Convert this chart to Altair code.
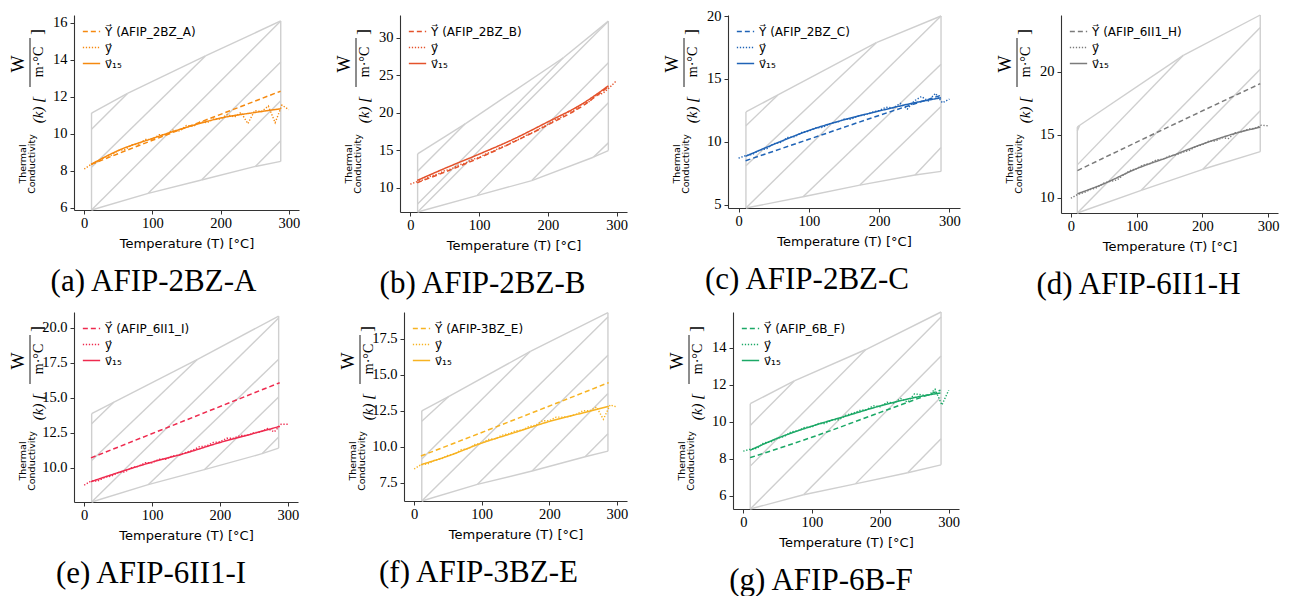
import altair as alt
import pandas as pd

X_DOMAIN = [-15, 315]
X_TICKS = [0, 100, 200, 300]
T_DOTS = list(range(0, 301, 10))
T_FIT = [10, 50, 100, 150, 200, 250, 288]
BOX_COLOR = "#CFCFCF"

# (a)
A_NAME = "AFIP_2BZ_A"
A_CAPTION = "(a) AFIP-2BZ-A"
A_COLOR = "#F5890F"
A_YDOMAIN = [5.89, 16.41]
A_YTICKS = [6, 8, 10, 12, 14, 16]
A_DASH_T = [10, 100, 200, 288]
A_DASH = [8.35, 9.65, 11.05, 12.3]
A_SOLID = [8.35, 9.1, 9.75, 10.35, 10.85, 11.15, 11.35]
A_DOTS = [8.1, 8.35, 8.5, 8.75, 8.85, 9.1, 9.15, 9.4, 9.45, 9.7, 9.7, 9.95, 9.95, 10.2, 10.15, 10.45,
          10.4, 10.65, 10.6, 10.8, 10.8, 11.05, 10.9, 11.15, 10.55, 11.25, 11.2, 11.5, 10.6, 11.55, 11.3]
A_TOP = [[10.7, 11.12], [63.5, 12.18], [177.8, 14.2], [288.2, 16.09]]
A_BOT = [[10.7, 5.89], [93.8, 6.79], [172, 7.51], [251, 8.24], [288.2, 8.51]]
A_DIAG = [[10.7, 10.25, 63.5, 12.18], [10.7, 8.19, 177.8, 14.2], [10.7, 5.89, 288.2, 16.09],
          [93.8, 6.79, 288.2, 13.88], [172, 7.51, 288.2, 11.78], [251, 8.24, 288.2, 9.63]]

# (b)
B_NAME = "AFIP_2BZ_B"
B_CAPTION = "(b) AFIP-2BZ-B"
B_COLOR = "#E4522B"
B_YDOMAIN = [6.8, 33.02]
B_YTICKS = [10, 15, 20, 25, 30]
B_DASH_T = [10, 100, 200, 250, 288]
B_DASH = [10.7, 14.0, 18.4, 20.9, 23.5]
B_SOLID = [11.0, 12.6, 14.5, 16.5, 18.8, 21.2, 23.6]
B_DOTS = [10.5, 10.85, 11.1, 11.6, 11.85, 12.3, 12.55, 13.05, 13.3, 13.8, 14.05, 14.55, 14.85, 15.35, 15.65,
          16.2, 16.55, 17.1, 17.45, 18.0, 18.45, 19.05, 19.45, 20.15, 20.4, 21.2, 21.5, 22.3, 22.6, 23.4, 24.3]
B_TOP = [[10.6, 14.53], [79.8, 18.53], [222.5, 27.33], [287.9, 32.2]]
B_BOT = [[10.6, 6.8], [96.8, 8.98], [176.6, 10.98], [266, 14.09], [287.9, 14.98]]
B_DIAG = [[10.6, 12.22, 79.8, 18.53], [10.6, 7.87, 222.5, 27.33], [10.6, 6.8, 287.9, 32.2],
          [96.8, 8.98, 287.9, 26.67], [176.6, 10.98, 287.9, 21.33], [266, 14.09, 287.9, 16.0]]

# (c)
C_NAME = "AFIP_2BZ_C"
C_CAPTION = "(c) AFIP-2BZ-C"
C_COLOR = "#1F63B6"
C_YDOMAIN = [4.74, 20.08]
C_YTICKS = [5, 10, 15, 20]
C_DASH_T = [10, 100, 200, 288]
C_DASH = [8.5, 10.2, 12.1, 13.7]
C_SOLID = [8.85, 9.8, 10.9, 11.75, 12.45, 13.1, 13.5]
C_DOTS = [8.7, 8.9, 9.0, 9.35, 9.45, 9.85, 9.95, 10.35, 10.4, 10.75, 10.85, 11.1, 11.15, 11.45, 11.55, 11.8,
          11.8, 12.05, 12.15, 12.35, 12.5, 12.75, 12.7, 13.05, 12.6, 13.25, 13.6, 13.25, 13.85, 13.1, 13.4]
C_TOP = [[10.5, 12.38], [56, 13.73], [196, 17.88], [288, 20.0]]
C_BOT = [[10.5, 4.74], [91.8, 5.63], [172.6, 6.56], [251, 7.36], [288, 7.65]]
C_DIAG = [[10.5, 11.27, 56, 13.73], [10.5, 8.1, 196, 17.88], [10.5, 4.74, 288, 20.0],
          [91.8, 5.63, 288, 16.16], [172.6, 6.56, 288, 12.8], [251, 7.36, 288, 9.55]]

# (d)
D_NAME = "AFIP_6II1_H"
D_CAPTION = "(d) AFIP-6II1-H"
D_COLOR = "#7B7B7B"
D_YDOMAIN = [8.78, 24.5]
D_YTICKS = [10, 15, 20]
D_DASH_T = [10, 150, 288]
D_DASH = [12.15, 15.65, 19.05]
D_SOLID = [10.3, 11.1, 12.3, 13.25, 14.25, 15.1, 15.6]
D_DOTS = [9.95, 10.25, 10.4, 10.65, 10.8, 11.15, 11.3, 11.4, 11.8, 12.15, 12.3, 12.6, 12.7, 13.0, 13.05, 13.3,
          13.4, 13.6, 13.75, 14.05, 14.2, 14.5, 14.5, 14.75, 14.7, 15.15, 15.25, 15.45, 15.5, 15.75, 15.7]
D_TOP = [[9.8, 15.6], [13.5, 15.75], [171, 21.3], [288, 24.5]]
D_BOT = [[9.8, 8.78], [107, 10.58], [200.7, 12.25], [288, 13.65]]
D_DIAG = [[9.8, 15.3, 13.5, 15.75], [9.8, 12.6, 171, 21.3], [9.8, 8.78, 288, 23.5],
          [107, 10.58, 288, 20.2], [200.7, 12.25, 288, 16.9]]

# (e)
E_NAME = "AFIP_6II1_I"
E_CAPTION = "(e) AFIP-6II1-I"
E_COLOR = "#EE2A4E"
E_YDOMAIN = [7.55, 21.12]
E_YTICKS = [10, 12.5, 15, 17.5, 20]
E_DASH_T = [10, 150, 288]
E_DASH = [10.7, 13.4, 16.07]
E_SOLID = [9.0, 9.65, 10.4, 11.05, 11.8, 12.45, 12.95]
E_DOTS = [8.75, 9.05, 9.05, 9.3, 9.4, 9.65, 9.7, 10.0, 10.1, 10.35, 10.35, 10.6, 10.6, 10.85, 10.9, 11.1,
          11.25, 11.5, 11.55, 11.8, 11.85, 12.1, 12.1, 12.3, 12.3, 12.5, 12.55, 12.8, 12.55, 13.1, 13.1]
E_TOP = [[11, 13.86], [44, 14.69], [167, 17.74], [286.5, 20.83]]
E_BOT = [[11, 7.55], [94.3, 8.79], [177, 9.86], [262, 11.0], [286.5, 11.4]]
E_DIAG = [[11, 13.14, 44, 14.69], [11, 10.52, 167, 17.74], [11, 7.55, 286.5, 20.7],
          [94.3, 8.79, 286.5, 17.74], [177, 9.86, 286.5, 15.05], [262, 11.0, 286.5, 12.19]]

# (f)
F_NAME = "AFIP-3BZ_E"
F_CAPTION = "(f) AFIP-3BZ-E"
F_COLOR = "#F7B322"
F_YDOMAIN = [6.23, 19.35]
F_YTICKS = [7.5, 10, 12.5, 15, 17.5]
F_DASH_T = [10, 150, 288]
F_DASH = [9.35, 11.9, 14.45]
F_SOLID = [8.75, 9.35, 10.25, 11.0, 11.75, 12.35, 12.8]
F_DOTS = [8.45, 8.75, 8.8, 9.05, 9.15, 9.4, 9.5, 9.8, 9.85, 10.15, 10.25, 10.5, 10.55, 10.8, 10.9, 11.1,
          11.15, 11.4, 11.5, 11.8, 11.8, 12.05, 12.05, 12.1, 12.25, 12.5, 12.5, 12.75, 11.9, 12.9, 12.75]
F_TOP = [[11.3, 12.49], [51.6, 13.5], [172, 16.62], [286.8, 19.3]]
F_BOT = [[11.3, 6.23], [93.5, 7.38], [174.6, 8.31], [253, 9.3], [286.8, 9.69]]
F_DIAG = [[11.3, 11.77, 51.6, 13.5], [11.3, 9.14, 172, 16.62], [11.3, 6.23, 286.8, 19.0],
          [93.5, 7.38, 286.8, 16.35], [174.6, 8.31, 286.8, 13.69], [253, 9.3, 286.8, 10.9]]

# (g)
G_NAME = "AFIP_6B_F"
G_CAPTION = "(g) AFIP-6B-F"
G_COLOR = "#1BA866"
G_YDOMAIN = [5.27, 15.93]
G_YTICKS = [6, 8, 10, 12, 14]
G_DASH_T = [10, 100, 200, 288]
G_DASH = [8.05, 9.15, 10.5, 11.7]
G_SOLID = [8.45, 9.1, 9.75, 10.3, 10.85, 11.3, 11.55]
G_DOTS = [8.4, 8.5, 8.55, 8.85, 8.9, 9.1, 9.2, 9.45, 9.5, 9.7, 9.7, 9.9, 9.9, 10.1, 10.1, 10.35,
          10.45, 10.6, 10.65, 10.85, 10.8, 11.05, 11.0, 11.25, 11.05, 11.5, 11.45, 11.4, 11.75, 10.9, 11.7]
G_TOP = [[10.2, 10.97], [74.5, 12.2], [179, 13.9], [288.8, 15.93]]
G_BOT = [[10.2, 5.27], [88, 6.04], [163.7, 6.63], [240, 7.23], [288.8, 7.66]]
G_DIAG = [[10.2, 9.79, 74.5, 12.2], [10.2, 7.59, 179, 13.9], [10.2, 5.27, 288.8, 15.66],
          [88, 6.04, 288.8, 13.55], [163.7, 6.63, 288.8, 11.33], [240, 7.23, 288.8, 9.07]]


def one_row():
    return pd.DataFrame({"v": [0]})


def txt(s, x, y, size, font, style="normal"):
    return alt.Chart(one_row()).mark_text(
        text=s, angle=270, fontSize=size, font=font, fontStyle=style,
        align="center", baseline="middle", color="black"
    ).encode(x=alt.value(x), y=alt.value(y))


def panel(name, caption, color, ydom, yticks, dash_t, dash, solid, dots, top, bot, diag,
          width, height, fmt="d", cap_dx=-33):
    labels = ["Y\u20d7 (" + name + ")", "y\u20d7", "v\u20d7\u2081\u2085"]
    fit_rows = [{"T": t, "K": k, "s": labels[0]} for t, k in zip(dash_t, dash)]
    fit_rows += [{"T": t, "K": k, "s": labels[2]} for t, k in zip(T_FIT, solid)]
    dot_rows = [{"T": t, "K": k, "s": labels[1]} for t, k in zip(T_DOTS, dots)]

    seg = [[top[0][0], top[0][1], bot[0][0], bot[0][1]],
           [top[-1][0], top[-1][1], bot[-1][0], bot[-1][1]]]
    for a, b in zip(top[:-1], top[1:]):
        seg.append([a[0], a[1], b[0], b[1]])
    for a, b in zip(bot[:-1], bot[1:]):
        seg.append([a[0], a[1], b[0], b[1]])
    seg += diag
    sdf = pd.DataFrame(seg, columns=["x", "y", "x2", "y2"])

    xs = alt.Scale(domain=X_DOMAIN, nice=False, zero=False)
    ys = alt.Scale(domain=ydom, nice=False, zero=False)
    xax = alt.Axis(values=X_TICKS, title="Temperature (T) [°C]", format="d",
                   labelFont="Liberation Serif")
    yax = alt.Axis(values=yticks, title=None, format=fmt, labelFont="Liberation Serif")

    leg = alt.Legend(title=None, orient="none", legendX=8, legendY=7, symbolType="stroke",
                     symbolSize=300, symbolStrokeWidth=1.6, labelFont="DejaVu Sans",
                     labelFontSize=12, rowPadding=0, padding=0, labelOffset=4)
    col = alt.Color("s:N", scale=alt.Scale(domain=labels, range=[color, color, color]), legend=leg)
    dsh = alt.StrokeDash("s:N", scale=alt.Scale(domain=labels, range=[[5, 3], [1.3, 1.7], [1, 0]]),
                         legend=leg)

    box = alt.Chart(sdf).mark_rule(color=BOX_COLOR, strokeWidth=1.4).encode(
        x=alt.X("x:Q", scale=xs, axis=xax),
        y=alt.Y("y:Q", scale=ys, axis=yax),
        x2="x2:Q", y2="y2:Q")
    dotl = alt.Chart(pd.DataFrame(dot_rows)).mark_line(strokeWidth=1.4).encode(
        x=alt.X("T:Q", scale=xs, axis=xax), y=alt.Y("K:Q", scale=ys, axis=yax),
        color=col, strokeDash=dsh)
    fitl = alt.Chart(pd.DataFrame(fit_rows)).mark_line(strokeWidth=1.5, interpolate="monotone").encode(
        x=alt.X("T:Q", scale=xs, axis=xax), y=alt.Y("K:Q", scale=ys, axis=yax),
        color=col, strokeDash=dsh)

    texts = [
        txt("(k) [", -36, 95, 15, "Liberation Serif", "italic"),
        txt("W", -55, 49, 18, "Liberation Serif"),
        txt("m\u00b7\u00b0C", -35, 47, 14, "Liberation Serif"),
        txt("]", -36, 17, 17, "Liberation Serif"),
        txt("Thermal", -51, 149, 9.5, "DejaVu Sans"),
        txt("Conductivity", -42.5, 149, 9.5, "DejaVu Sans"),
    ]
    bar = alt.Chart(one_row()).mark_rule(color="black", strokeWidth=0.9).encode(
        x=alt.value(-44), y=alt.value(23), y2=alt.value(72))

    return alt.layer(box, dotl, fitl, bar, *texts).properties(
        width=width, height=height,
        title=alt.TitleParams(text=caption, orient="bottom", anchor="middle", dx=cap_dx))


pa = panel(A_NAME, A_CAPTION, A_COLOR, A_YDOMAIN, A_YTICKS, A_DASH_T, A_DASH, A_SOLID, A_DOTS,
           A_TOP, A_BOT, A_DIAG, 225, 195)
pb = panel(B_NAME, B_CAPTION, B_COLOR, B_YDOMAIN, B_YTICKS, B_DASH_T, B_DASH, B_SOLID, B_DOTS,
           B_TOP, B_BOT, B_DIAG, 227, 197, cap_dx=-31)
pc = panel(C_NAME, C_CAPTION, C_COLOR, C_YDOMAIN, C_YTICKS, C_DASH_T, C_DASH, C_SOLID, C_DOTS,
           C_TOP, C_BOT, C_DIAG, 232, 193, cap_dx=-37)
pd_ = panel(D_NAME, D_CAPTION, D_COLOR, D_YDOMAIN, D_YTICKS, D_DASH_T, D_DASH, D_SOLID, D_DOTS,
            D_TOP, D_BOT, D_DIAG, 217, 198, cap_dx=-31)
pe = panel(E_NAME, E_CAPTION, E_COLOR, E_YDOMAIN, E_YTICKS, E_DASH_T, E_DASH, E_SOLID, E_DOTS,
           E_TOP, E_BOT, E_DIAG, 224, 190, ".1f", cap_dx=-35)
pf = panel(F_NAME, F_CAPTION, F_COLOR, F_YDOMAIN, F_YTICKS, F_DASH_T, F_DASH, F_SOLID, F_DOTS,
           F_TOP, F_BOT, F_DIAG, 223, 189, ".1f", cap_dx=-37)
pg = panel(G_NAME, G_CAPTION, G_COLOR, G_YDOMAIN, G_YTICKS, G_DASH_T, G_DASH, G_SOLID, G_DOTS,
           G_TOP, G_BOT, G_DIAG, 226, 197, cap_dx=-25)

row1 = alt.hconcat(pa, pb, pc, pd_, spacing=36).resolve_scale(color="independent", strokeDash="independent")
row2 = alt.hconcat(pe, pf, pg, spacing=41).resolve_scale(color="independent", strokeDash="independent")

chart = alt.vconcat(row1, row2, spacing=11).resolve_scale(
    color="independent", strokeDash="independent"
).properties(
    padding={"left": 2, "top": 0, "right": 0, "bottom": 0}
).configure_view(
    strokeWidth=0
).configure_axis(
    domainColor="#333333", domainWidth=1.1, tickColor="#333333", tickSize=4, tickWidth=1,
    labelFont="Liberation Serif", labelFontSize=14.5, labelColor="black", grid=False,
    titleFont="DejaVu Sans", titleFontSize=13, titleFontWeight="normal", titleColor="black"
).configure_axisX(
    labelPadding=2, titlePadding=8
).configure_axisY(
    labelPadding=3
).configure_title(
    font="Liberation Serif", fontSize=31, fontWeight="normal", color="black", offset=16
)

chart.save("out.html", embed_options={"renderer": "svg", "actions": False})
